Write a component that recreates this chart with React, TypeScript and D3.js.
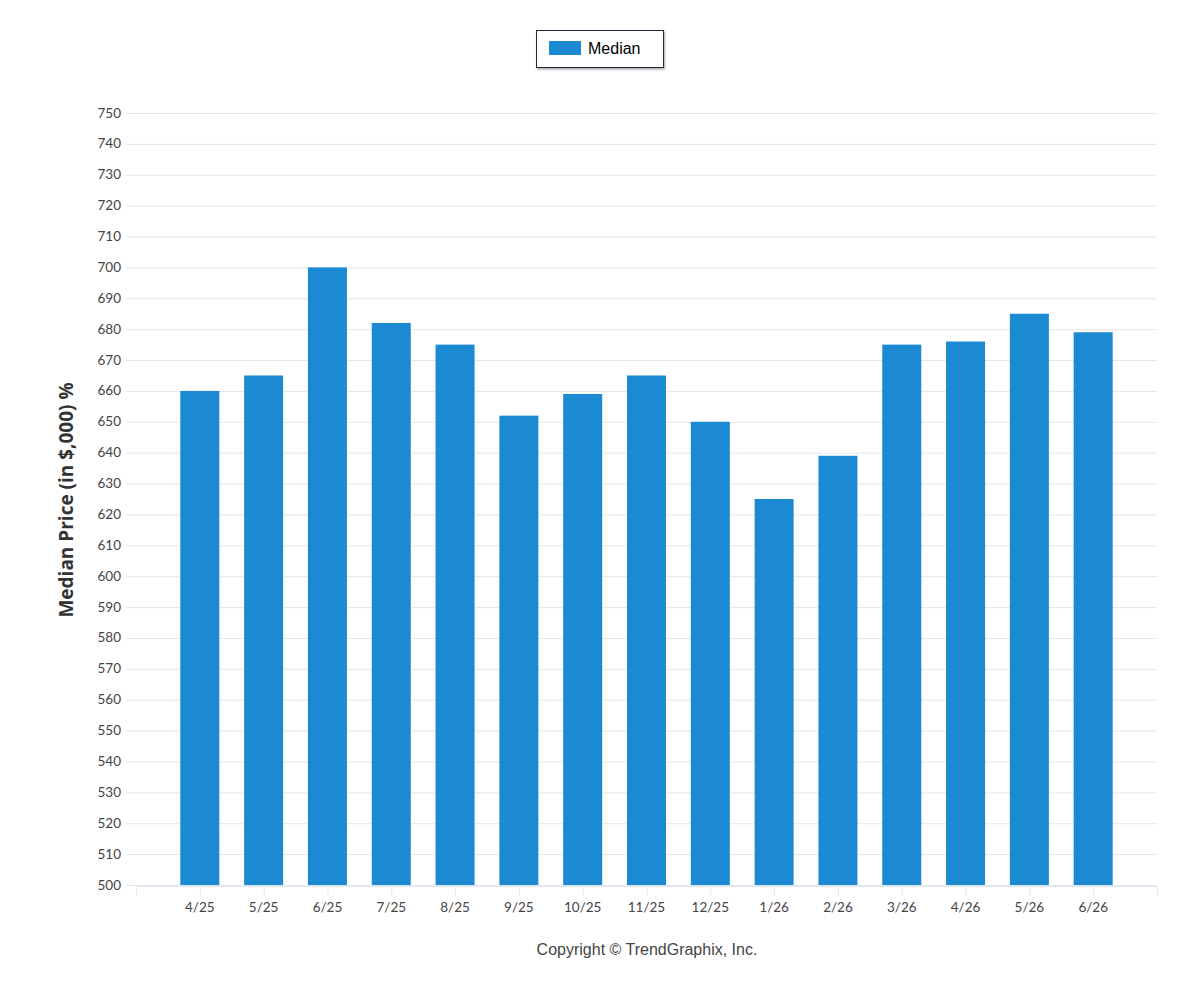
import React from "react";
import * as d3 from "d3";

const categories = ["4/25","5/25","6/25","7/25","8/25","9/25","10/25","11/25","12/25","1/26","2/26","3/26","4/26","5/26","6/26"];
const medianValues = [660,665,700,682,675,652,659,665,650,625,639,675,676,685,679];
const yTicks = d3.range(500, 751, 10);

const W = 1200, H = 1000;
const left = 136, right = 1157, top = 113, bottom = 885;

export default function App() {
  const x = d3.scaleLinear().domain([0, categories.length + 1]).range([left, right]);
  const y = d3.scaleLinear().domain([500, 750]).range([bottom, top]);
  const barW = 39;
  const color = "#1C8AD2";
  return (
    <svg width={W} height={H} style={{ position: "absolute", left: 0, top: 0, background: "#fff" }}>
      <defs>
        <filter id="sh" x="-10%" y="-10%" width="130%" height="150%">
          <feDropShadow dx="1" dy="1.5" stdDeviation="1" floodColor="#000" floodOpacity="0.35" />
        </filter>
      </defs>
      {/* legend */}
      <rect x={536.5} y={30.5} width={127} height={37} fill="#fff" stroke="#1a2a3a" strokeWidth={1} filter="url(#sh)" />
      <rect x={549} y={41} width={32} height={14} fill={color} />
      <text x={588} y={54} fontFamily="Liberation Sans, Arial, sans-serif" fontSize={16} fill="#000">Median</text>
      {/* grid */}
      {yTicks.map(t => (
        <g key={t}>
          <line x1={126} x2={right} y1={y(t) + 0.5} y2={y(t) + 0.5} stroke="#e6e6e6" strokeWidth={1} />
          <text x={121} y={y(t) + 4.5} textAnchor="end" fontFamily="Lato, 'Open Sans', sans-serif" fontSize={13.5} fill="#444">{t}</text>
        </g>
      ))}
      {/* bars */}
      {medianValues.map((v, i) => (
        <rect key={i} x={x(i + 1) - barW / 2} y={y(v)} width={barW} height={y(500) - y(v)} fill={color} />
      ))}
      {/* x axis */}
      <line x1={left} x2={right} y1={bottom + 1} y2={bottom + 1} stroke="#e0e6ee" strokeWidth={2} />
      {d3.range(0, categories.length + 2).map(i => (
        <line key={i} x1={x(i) + 0.5} x2={x(i) + 0.5} y1={bottom + 2} y2={bottom + 10} stroke="#e0e6ee" strokeWidth={1} />
      ))}
      {categories.map((c, i) => (
        <text key={c} x={x(i + 1)} y={912} textAnchor="middle" fontFamily="Lato, 'Open Sans', sans-serif" fontSize={13.5} fill="#444">{c}</text>
      ))}
      {/* y title */}
      <text transform={`translate(73,500) rotate(-90)`} textAnchor="middle" fontFamily="'Open Sans', sans-serif" fontWeight="bold" fontSize={19} fill="#333">Median Price (in $,000) %</text>
      {/* copyright */}
      <text x={647} y={955} textAnchor="middle" fontFamily="Liberation Sans, Arial, sans-serif" fontSize={16} fill="#444">Copyright © TrendGraphix, Inc.</text>
    </svg>
  );
}
